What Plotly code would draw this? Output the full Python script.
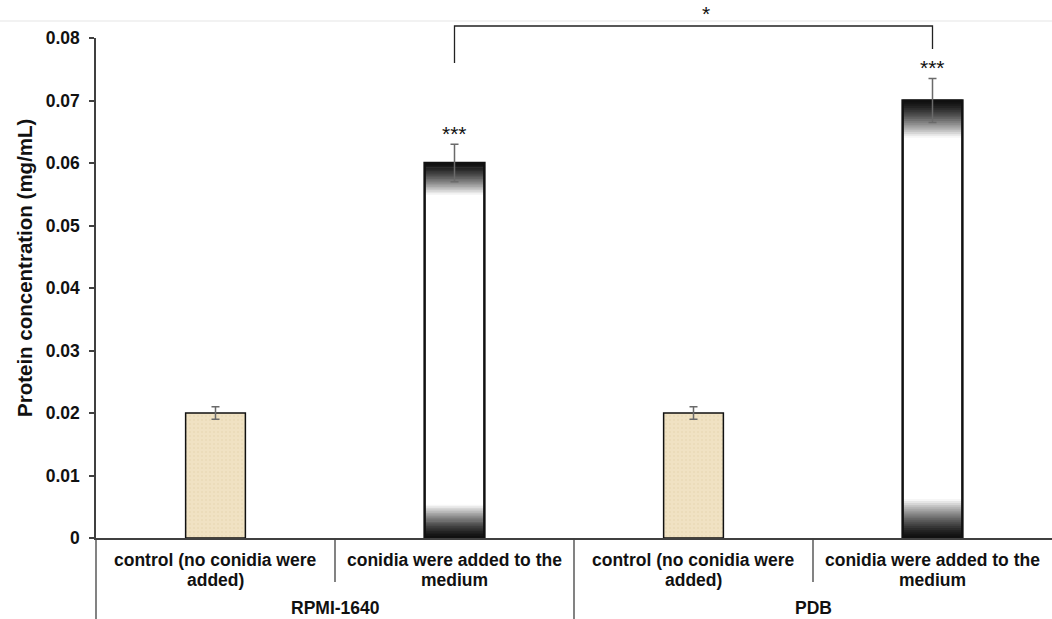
import plotly.graph_objects as go

# Data
media = ["RPMI-1640", "RPMI-1640", "PDB", "PDB"]
conditions = [
    "control (no conidia were<br>added)",
    "conidia were added to the<br>medium",
    "control (no conidia were<br>added)",
    "conidia were added to the<br>medium",
]
protein = [0.020, 0.060, 0.020, 0.070]
protein_err = [0.001, 0.003, 0.001, 0.0035]
stars = ["", "***", "", "***"]
comparison_label = "*"
y_title = "Protein concentration (mg/mL)"

FONT = "Liberation Sans, Arial, sans-serif"
AXIS = "#404040"
TXT = "#111111"

# plot area geometry (pixels) used to express label offsets in paper units
PLOT_LEFT, PLOT_W = 96, 956
PLOT_TOP, PLOT_H = 38, 500


def paper_y(px):
    return (PLOT_TOP + PLOT_H - px) / PLOT_H


n = len(protein)
is_control = [c.startswith("control") for c in conditions]
ctrl_x = [[m for m, k in zip(media, is_control) if k], [c for c, k in zip(conditions, is_control) if k]]
ctrl_y = [v for v, k in zip(protein, is_control) if k]
ctrl_e = [e for e, k in zip(protein_err, is_control) if k]
con_x = [[m for m, k in zip(media, is_control) if not k], [c for c, k in zip(conditions, is_control) if not k]]
con_y = [v for v, k in zip(protein, is_control) if not k]
con_e = [e for e, k in zip(protein_err, is_control) if not k]

fig = go.Figure()
BW = 0.25

# Control bars: parchment-like textured fill
fig.add_trace(go.Bar(
    x=ctrl_x, y=ctrl_y, width=BW,
    marker=dict(color="#F0E2C3", line=dict(color=TXT, width=1.5),
                pattern=dict(shape=".", fgcolor="#DCC79C", fgopacity=0.35, size=4, solidity=0.2)),
    error_y=dict(type="data", array=ctrl_e, color="#6a6a6a", thickness=1.5, width=4),
    showlegend=False, hoverinfo="skip",
))

# Conidia bars: white body with dark vertical gradients at top and bottom
fig.add_trace(go.Bar(x=con_x, y=con_y, width=BW, marker=dict(color="white", line=dict(width=0)),
                     showlegend=False, hoverinfo="skip"))

N = 20
TOP_FRAC = 0.085
BOT_FRAC = 0.088
gx0, gx1, gbase, gh, gval = [], [], [], [], []
for m, c, v in zip(con_x[0], con_x[1], con_y):
    for i in range(N):
        t = (i + 0.5) / N  # 0 at outer edge, 1 toward white
        g = int(15 + 240 * (t ** 1.4))
        step = v * TOP_FRAC / N
        gx0.append(m); gx1.append(c)
        gbase.append(v - step * (i + 1)); gh.append(step * 1.4); gval.append(g)
        step_b = v * BOT_FRAC / N
        gx0.append(m); gx1.append(c)
        gbase.append(step_b * i - step_b * 0.2); gh.append(step_b * 1.4); gval.append(g)
# lighter segments first so darker ones sit on top
order = sorted(range(len(gval)), key=lambda k: -gval[k])
fig.add_trace(go.Bar(
    x=[[gx0[k] for k in order], [gx1[k] for k in order]],
    y=[gh[k] for k in order], base=[gbase[k] for k in order], width=BW,
    marker=dict(color=[f"rgb({gval[k]},{gval[k]},{gval[k]})" for k in order], line=dict(width=0)),
    showlegend=False, hoverinfo="skip",
))
# outline + error bars on top
fig.add_trace(go.Bar(
    x=con_x, y=con_y, width=BW,
    marker=dict(color="rgba(0,0,0,0)", line=dict(color=TXT, width=2.5)),
    error_y=dict(type="data", array=con_e, color="#6a6a6a", thickness=1.5, width=4),
    showlegend=False, hoverinfo="skip",
))

# significance stars above error bars
for i, (v, e, s) in enumerate(zip(protein, protein_err, stars)):
    if s:
        fig.add_annotation(x=(i + 0.5) / n, xref="x domain", y=v + e, yref="y",
                           text=s, showarrow=False, xanchor="center", yanchor="middle", yshift=11,
                           font=dict(family=FONT, size=21, color=TXT))

# comparison bracket between the two conidia groups
cx = [(i + 0.5) / n for i, s in enumerate(stars) if s]
fig.add_shape(type="path", xref="x domain", yref="paper",
              path=f"M {cx[0]} {paper_y(63)} L {cx[0]} {paper_y(26)} L {cx[1]} {paper_y(26)} L {cx[1]} {paper_y(49)}",
              line=dict(color="#222222", width=1.3))
fig.add_annotation(x=(cx[0] + cx[1]) / 2, xref="x domain", xshift=12, y=paper_y(14), yref="paper",
                   text=comparison_label, showarrow=False, xanchor="center", yanchor="middle",
                   font=dict(family=FONT, size=21, color=TXT))

# faint rule across the top
fig.add_shape(type="line", xref="paper", yref="paper", x0=-0.11, x1=1.01, y0=paper_y(21), y1=paper_y(21),
              line=dict(color="#E6E6E6", width=1.2))

# category dividers below the axis
for xd, yb in [(0.0, 625), (0.25, 582), (0.5, 625), (0.75, 582)]:
    fig.add_shape(type="line", xref="x domain", yref="paper", x0=xd, x1=xd, y0=0, y1=paper_y(yb),
                  line=dict(color=AXIS, width=1.3))

# two-level category labels
lab_font = dict(family=FONT, size=17.5, color=TXT, weight="bold")
for i, c in enumerate(conditions):
    for j, line in enumerate(c.split("<br>")):
        fig.add_annotation(x=(i + 0.5) / n, xref="x domain", y=paper_y(560 + 19.5 * j), yref="paper",
                           text=line, showarrow=False, xanchor="center", yanchor="middle", font=lab_font)
groups = list(dict.fromkeys(media))
for g in groups:
    idx = [i for i, m in enumerate(media) if m == g]
    fig.add_annotation(x=(min(idx) + max(idx) + 1) / 2 / n, xref="x domain", y=paper_y(608), yref="paper",
                       text=g, showarrow=False, xanchor="center", yanchor="middle", font=lab_font)

# y-axis title
fig.add_annotation(x=(24 - PLOT_LEFT) / PLOT_W, xref="paper", y=paper_y(268), yref="paper",
                   text=y_title, textangle=-90, showarrow=False, xanchor="center", yanchor="middle",
                   font=dict(family=FONT, size=20.5, color=TXT, weight="bold"))

fig.update_layout(
    width=1052, height=619,
    margin=dict(l=PLOT_LEFT, r=1052 - PLOT_LEFT - PLOT_W, t=PLOT_TOP, b=619 - PLOT_TOP - PLOT_H),
    paper_bgcolor="white", plot_bgcolor="white",
    barmode="overlay", showlegend=False,
    font=dict(family=FONT, color=TXT),
)
fig.update_xaxes(
    type="multicategory", showline=True, linecolor=AXIS, linewidth=1.5,
    ticks="", showdividers=False, showgrid=False, showticklabels=False,
)
fig.update_yaxes(
    range=[0, 0.08], dtick=0.01, showgrid=False, zeroline=False,
    showline=True, linecolor=AXIS, linewidth=1.5,
    ticks="outside", ticklen=5, tickcolor=AXIS, tickwidth=1.5, ticklabelstandoff=6,
    tickfont=dict(family=FONT, size=17.5, color=TXT, weight="bold"),
)

fig.write_html("out.html")
